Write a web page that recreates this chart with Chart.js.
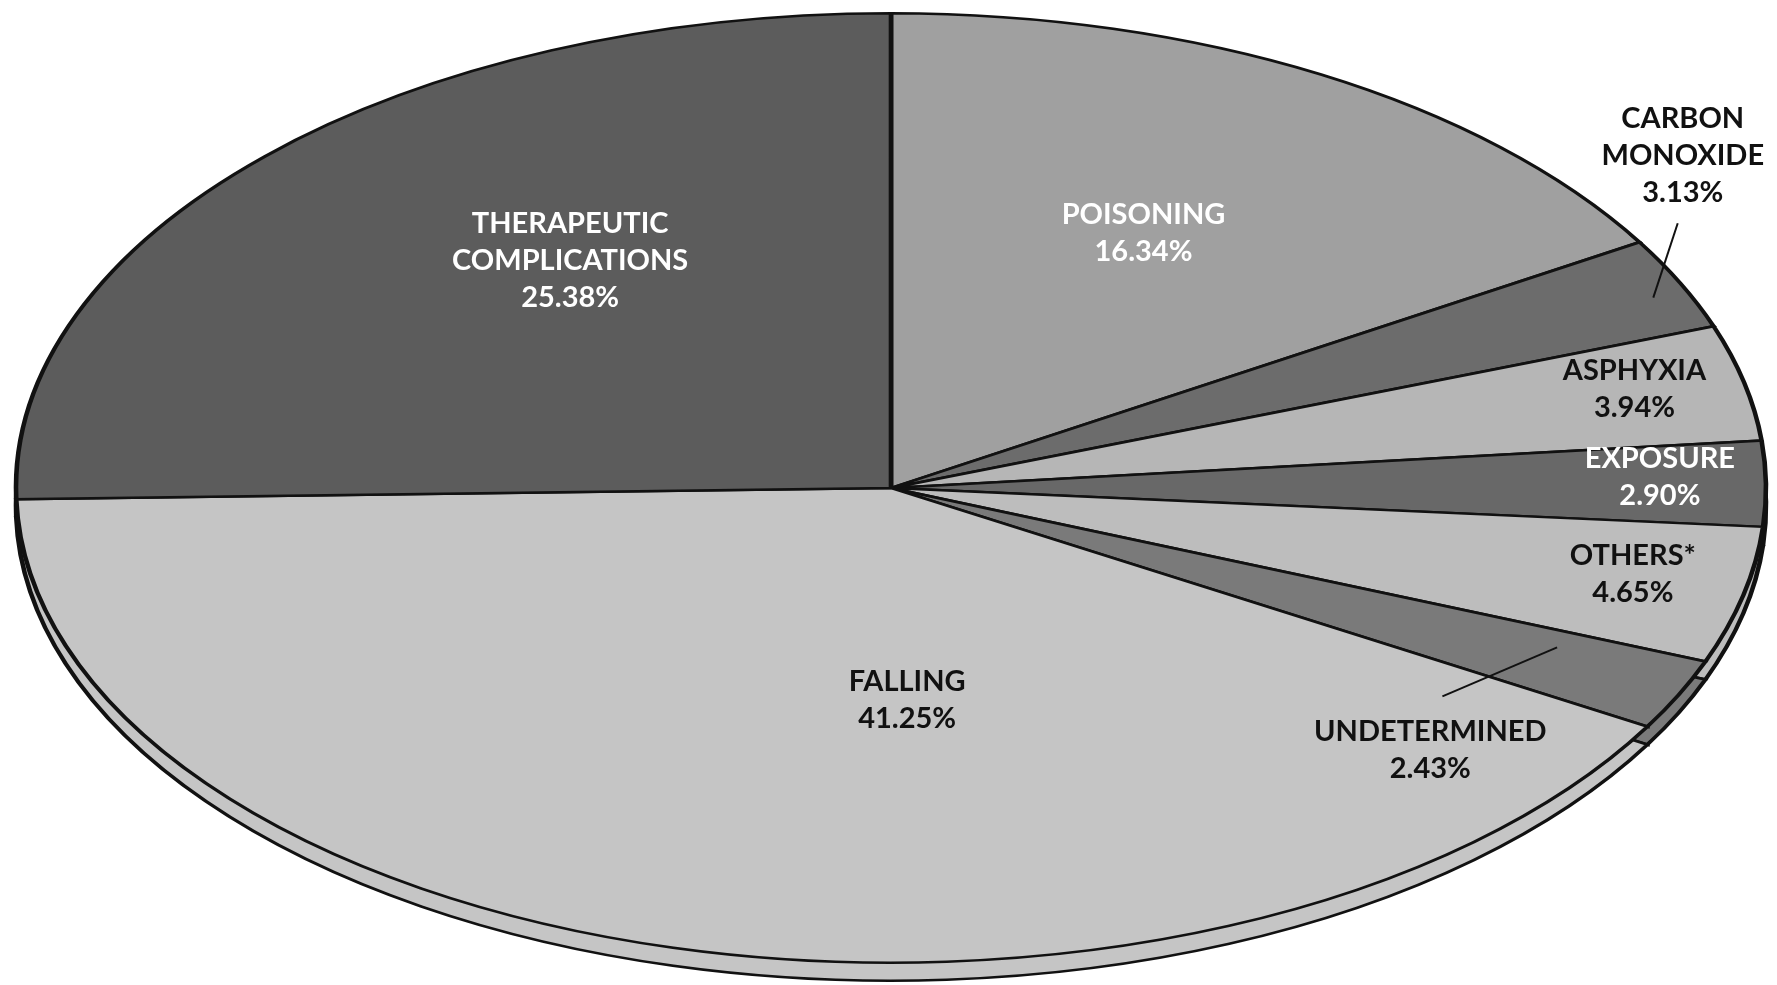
<!DOCTYPE html>
<html>
<head>
<meta charset="utf-8">
<script src="https://cdn.jsdelivr.net/npm/chart.js@4/dist/chart.umd.min.js"></script>
<style>
  html, body { margin: 0; padding: 0; background: #ffffff; }
  #c { display: block; }
</style>
</head>
<body>
<canvas id="c" width="1777" height="985"></canvas>
<script>
// ---- data ----
const categories = ["POISONING", "CARBON MONOXIDE", "ASPHYXIA", "EXPOSURE", "OTHERS*", "UNDETERMINED", "FALLING", "THERAPEUTIC COMPLICATIONS"];
const percents = [16.34, 3.13, 3.94, 2.90, 4.65, 2.43, 41.25, 25.38];
const labelLines = [
  ["POISONING", "16.34%"],
  ["CARBON", "MONOXIDE", "3.13%"],
  ["ASPHYXIA", "3.94%"],
  ["EXPOSURE", "2.90%"],
  ["OTHERS*", "4.65%"],
  ["UNDETERMINED", "2.43%"],
  ["FALLING", "41.25%"],
  ["THERAPEUTIC", "COMPLICATIONS", "25.38%"]
];

// ---- styles ----
const sliceColors = ["#a0a0a0", "#6c6c6c", "#b6b6b6", "#686868", "#bdbdbd", "#7a7a7a", "#c5c5c5", "#5c5c5c"];
const textColors = ["#ffffff", "#111111", "#111111", "#ffffff", "#111111", "#111111", "#111111", "#ffffff"];
// label placement: t = position across slice angle (0..1, may exceed), r = fraction of radius
const labelPlace = [
  {t: 0.48, r: 0.61},
  {t: -0.58, r: 1.144},
  {t: 0.43, r: 0.875},
  {t: 0.41, r: 0.879},
  {t: 0.44, r: 0.867},
  {t: 2.34, r: 0.828},
  {t: 0.387, r: 0.447},
  {t: 0.59, r: 0.603}
];
const leaders = [
  null,
  {t1: 0.575, r1: 0.959, t2: -0.055, r2: 1.058},
  null, null, null,
  {t1: 0.27, r1: 0.832, t2: 1.535, r2: 0.768},
  null, null
];
const RX = 875;      // horizontal radius of the ellipse
const DEPTH = 18;    // thickness of the pie edge
const LINE_H = 37;
const FONT = "bold 29px Lato, 'DejaVu Sans', sans-serif";

function sx(arc) { return RX / arc.outerRadius; }
function polar(arc, t, r) {
  const a = arc.startAngle + t * (arc.endAngle - arc.startAngle);
  const R = arc.outerRadius;
  return [arc.x + Math.cos(a) * R * r * sx(arc), arc.y + Math.sin(a) * R * r];
}

const ellipsePlugin = {
  id: 'ellipse',
  beforeDatasetsDraw(chart) {
    const ctx = chart.ctx;
    const meta = chart.getDatasetMeta(0);
    const a0 = meta.data[0];
    const cx = a0.x, cy = a0.y, s = sx(a0);
    // side (thickness) layer
    ctx.save();
    ctx.translate(cx, cy + DEPTH);
    ctx.scale(s, 1);
    ctx.translate(-cx, -cy);
    meta.data.forEach(a => a.draw(ctx));
    ctx.restore();
    // top face
    ctx.save();
    ctx.translate(cx, cy);
    ctx.scale(s, 1);
    ctx.translate(-cx, -cy);
  },
  afterDatasetsDraw(chart) {
    chart.ctx.restore();
  },
  afterDraw(chart) {
    const ctx = chart.ctx;
    const meta = chart.getDatasetMeta(0);
    ctx.save();
    // leader lines
    ctx.strokeStyle = "#111111";
    ctx.lineWidth = 2;
    meta.data.forEach((arc, i) => {
      const L = leaders[i];
      if (!L) return;
      const p1 = polar(arc, L.t1, L.r1), p2 = polar(arc, L.t2, L.r2);
      ctx.beginPath(); ctx.moveTo(p1[0], p1[1]); ctx.lineTo(p2[0], p2[1]); ctx.stroke();
    });
    // labels
    ctx.font = FONT;
    ctx.textAlign = "center";
    ctx.textBaseline = "middle";
    meta.data.forEach((arc, i) => {
      const P = labelPlace[i];
      const [x, y] = polar(arc, P.t, P.r);
      const lines = labelLines[i];
      ctx.fillStyle = textColors[i];
      const y0 = y - (lines.length - 1) * LINE_H / 2;
      lines.forEach((ln, k) => ctx.fillText(ln, x, y0 + k * LINE_H));
    });
    ctx.restore();
  }
};

new Chart(document.getElementById('c'), {
  type: 'pie',
  data: {
    labels: categories,
    datasets: [{
      data: percents,
      backgroundColor: sliceColors,
      borderColor: "#111111",
      borderWidth: 2.5,
      borderJoinStyle: 'miter'
    }]
  },
  options: {
    responsive: false,
    devicePixelRatio: 1,
    animation: false,
    layout: { padding: { top: 12, bottom: 21, left: 5, right: 0 } },
    plugins: {
      legend: { display: false },
      tooltip: { enabled: false }
    }
  },
  plugins: [ellipsePlugin]
});
</script>
</body>
</html>
